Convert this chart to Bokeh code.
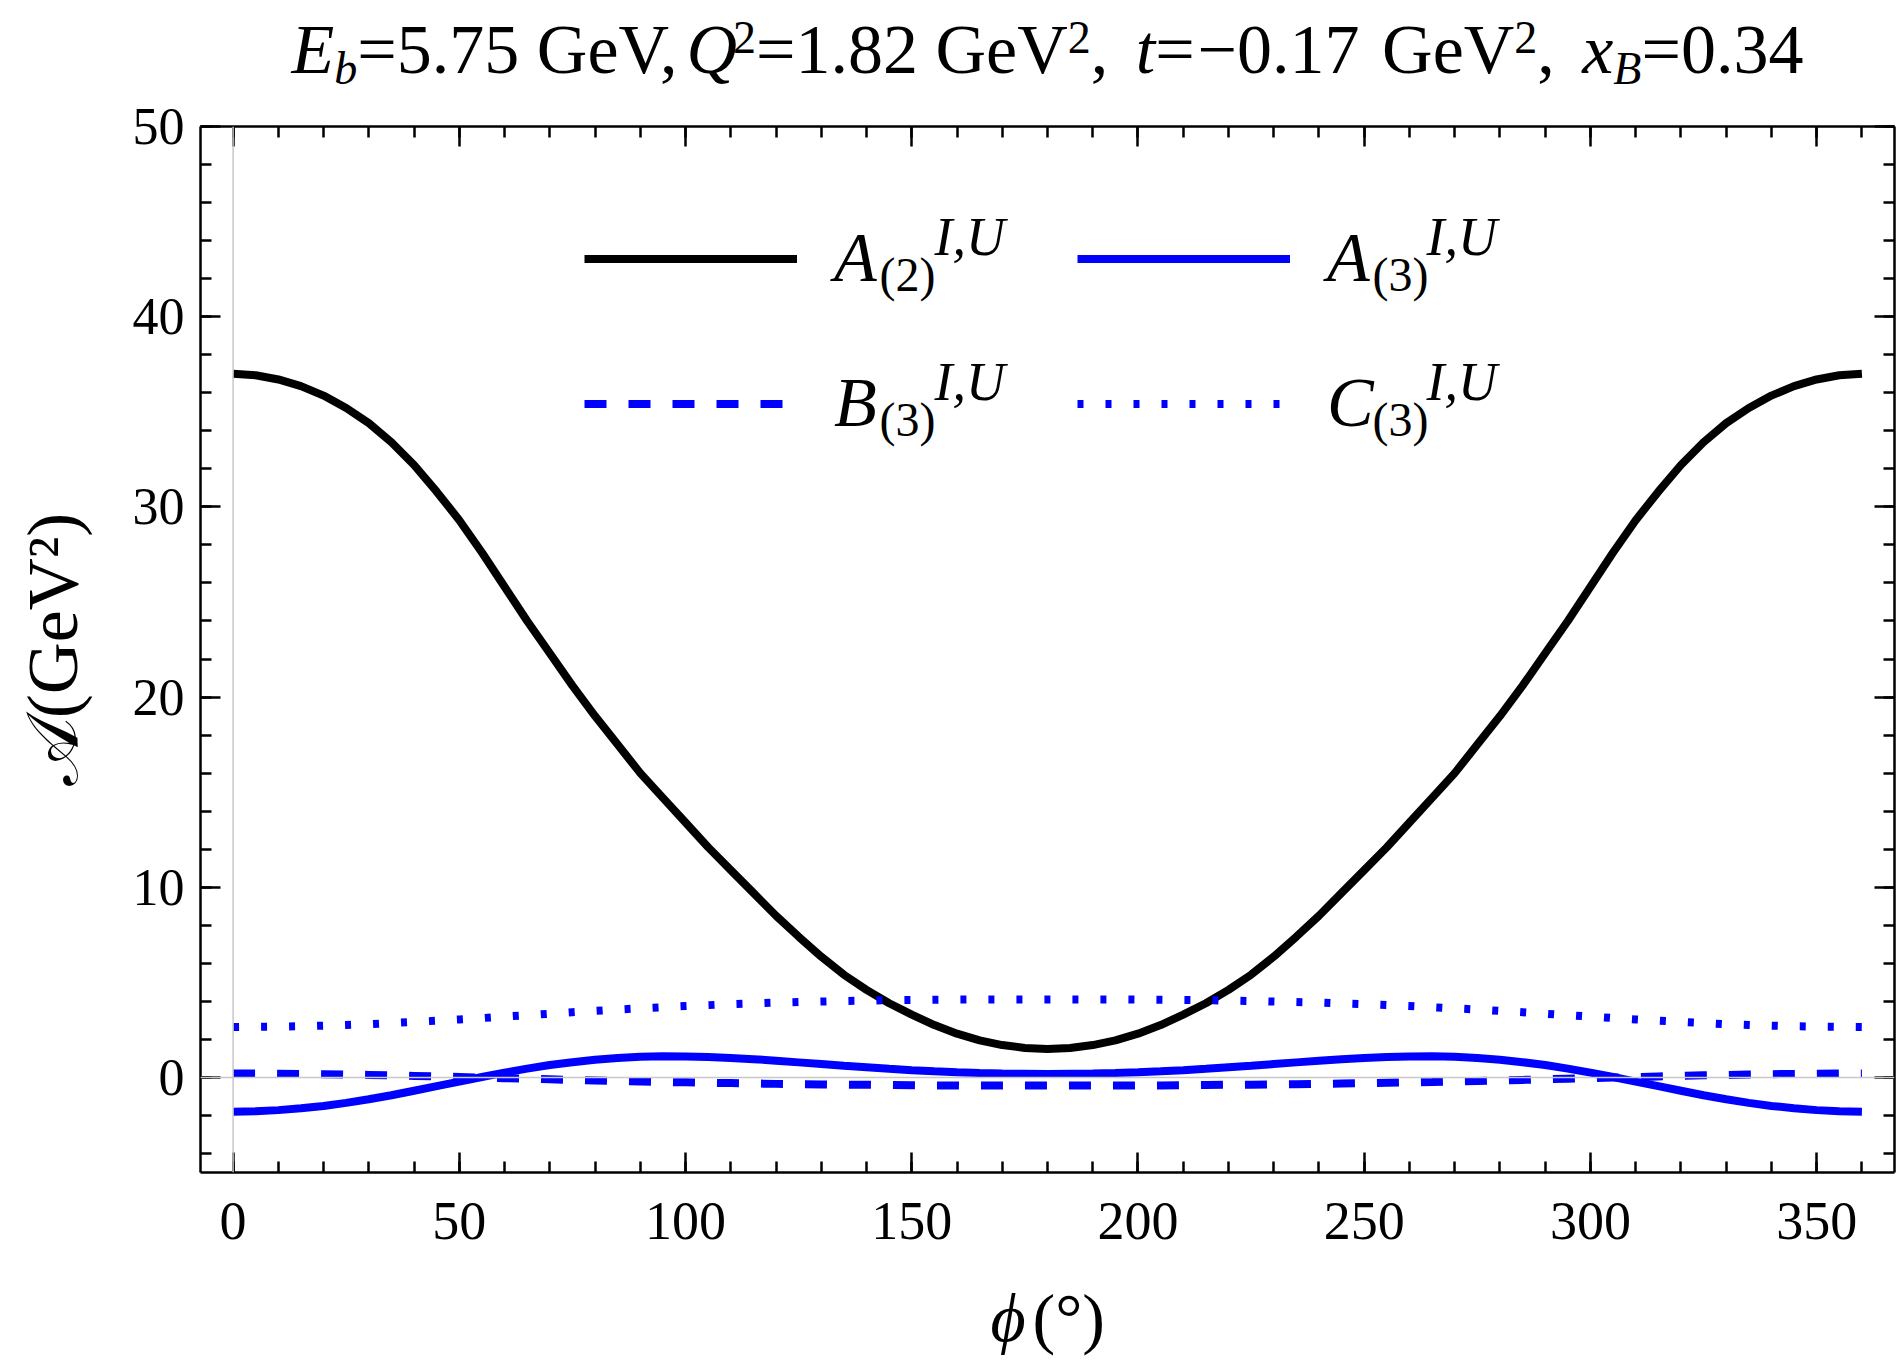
from bokeh.plotting import figure
from bokeh.layouts import column
from bokeh.models import (LinearAxis, Range1d, Span, Label, FixedTicker,
                          CustomJSTickFormatter, Legend, LegendItem)
from bokeh.embed import file_html
from bokeh.resources import INLINE

# ---------------- data ----------------
phi_deg = [0, 5, 10, 15, 20, 25, 30, 35, 40, 45, 50, 55, 60, 65, 70, 75, 80, 85, 90,
           95, 100, 105, 110, 115, 120, 125, 130, 135, 140, 145, 150, 155, 160, 165, 170, 175, 180,
           185, 190, 195, 200, 205, 210, 215, 220, 225, 230, 235, 240, 245, 250, 255, 260, 265, 270,
           275, 280, 285, 290, 295, 300, 305, 310, 315, 320, 325, 330, 335, 340, 345, 350, 355, 360]

A2_IU = [37.0, 36.92, 36.7, 36.35, 35.85, 35.2, 34.4, 33.4, 32.2, 30.8, 29.3, 27.6, 25.8, 24.0, 22.3, 20.6, 19.0, 17.5, 16.0,
         14.7, 13.4, 12.1, 10.9, 9.7, 8.5, 7.4, 6.35, 5.4, 4.6, 3.9, 3.3, 2.75, 2.3, 1.95, 1.7, 1.55, 1.5,
         1.55, 1.7, 1.95, 2.3, 2.75, 3.3, 3.9, 4.6, 5.4, 6.35, 7.4, 8.5, 9.7, 10.9, 12.1, 13.4, 14.7, 16.0,
         17.5, 19.0, 20.6, 22.3, 24.0, 25.8, 27.6, 29.3, 30.8, 32.2, 33.4, 34.4, 35.2, 35.85, 36.35, 36.7, 36.92, 37.0]

A3_IU = [-1.8, -1.78, -1.72, -1.62, -1.5, -1.34, -1.15, -0.94, -0.7, -0.46, -0.22, 0.02, 0.25, 0.46, 0.65, 0.8, 0.93, 1.02, 1.08,
         1.11, 1.1, 1.07, 1.02, 0.96, 0.88, 0.79, 0.7, 0.61, 0.53, 0.45, 0.38, 0.32, 0.27, 0.23, 0.2, 0.19, 0.18,
         0.19, 0.2, 0.23, 0.27, 0.32, 0.38, 0.45, 0.53, 0.61, 0.7, 0.79, 0.88, 0.96, 1.02, 1.07, 1.1, 1.11, 1.08,
         1.02, 0.93, 0.8, 0.65, 0.46, 0.25, 0.02, -0.22, -0.46, -0.7, -0.94, -1.15, -1.34, -1.5, -1.62, -1.72, -1.78, -1.8]

B3_IU = [0.2, 0.2, 0.19, 0.18, 0.17, 0.15, 0.13, 0.11, 0.08, 0.05, 0.02, -0.01, -0.04, -0.07, -0.1, -0.13, -0.16, -0.19, -0.21,
         -0.24, -0.26, -0.28, -0.3, -0.32, -0.34, -0.36, -0.37, -0.38, -0.39, -0.4, -0.41, -0.42, -0.42, -0.43, -0.43, -0.43, -0.43,
         -0.43, -0.43, -0.43, -0.42, -0.42, -0.41, -0.4, -0.39, -0.38, -0.37, -0.36, -0.34, -0.32, -0.3, -0.28, -0.26, -0.24, -0.21,
         -0.19, -0.16, -0.13, -0.1, -0.07, -0.04, -0.01, 0.02, 0.05, 0.08, 0.11, 0.13, 0.15, 0.17, 0.18, 0.19, 0.2, 0.2]

C3_IU = [2.65, 2.66, 2.67, 2.69, 2.72, 2.76, 2.8, 2.86, 2.92, 2.98, 3.05, 3.12, 3.2, 3.27, 3.35, 3.43, 3.5, 3.57, 3.63,
         3.69, 3.75, 3.8, 3.85, 3.89, 3.93, 3.96, 3.99, 4.02, 4.04, 4.06, 4.07, 4.08, 4.09, 4.1, 4.1, 4.1, 4.1,
         4.1, 4.1, 4.1, 4.09, 4.08, 4.07, 4.06, 4.04, 4.02, 3.99, 3.96, 3.93, 3.89, 3.85, 3.8, 3.75, 3.69, 3.63,
         3.57, 3.5, 3.43, 3.35, 3.27, 3.2, 3.12, 3.05, 2.98, 2.92, 2.86, 2.8, 2.76, 2.72, 2.69, 2.67, 2.66, 2.65]

x_major_ticks = [0, 50, 100, 150, 200, 250, 300, 350]
x_minor_ticks = list(range(-10, 371, 10))
y_major_ticks = [0, 10, 20, 30, 40, 50]
y_minor_ticks = list(range(-6, 51, 2))
x_limits = (-7.2, 367.2)
y_limits = (-5, 50)

y_axis_title = "\U0001D49C(GeV\u00b2)"

# ---------------- layout constants (page pixels) ----------------
SERIF = "Liberation Serif"
BLUE = "#0000ff"
TOTAL_W = 1896
TITLE_H = 95
MAIN_BOTTOM = 1262
TOTAL_H = 1360
FRAME_L, FRAME_R, FRAME_T, FRAME_B = 200, 1894, 126, 1172
MID = 0.34  # Label anchor sits this fraction of the font size above the baseline


def text_fig(w, h):
    f = figure(width=w, height=h, x_range=Range1d(0, 1), y_range=Range1d(0, 1),
               x_axis_type=None, y_axis_type=None, output_backend="svg",
               toolbar_location=None, min_border=0)
    f.outline_line_color = None
    f.background_fill_color = "white"
    f.border_fill_color = "white"
    f.grid.visible = False
    return f


title_fig = text_fig(TOTAL_W, TITLE_H)
xlab_fig = text_fig(TOTAL_W, TOTAL_H - MAIN_BOTTOM)

p = figure(width=TOTAL_W, height=MAIN_BOTTOM - TITLE_H,
           x_range=Range1d(*x_limits), y_range=Range1d(*y_limits),
           x_axis_type=None, y_axis_type=None, output_backend="svg", toolbar_location=None,
           min_border_left=FRAME_L, min_border_right=TOTAL_W - FRAME_R,
           min_border_top=FRAME_T - TITLE_H, min_border_bottom=MAIN_BOTTOM - FRAME_B)
p.outline_line_color = None
p.background_fill_color = "white"
p.border_fill_color = "white"


def make_axis(ticks, minor, loc, labels):
    ax = LinearAxis(ticker=FixedTicker(ticks=ticks, minor_ticks=minor))
    ax.axis_line_color = "black"
    ax.axis_line_width = 2.5
    ax.major_tick_line_color = "black"
    ax.major_tick_line_width = 2.5
    ax.minor_tick_line_color = "black"
    ax.minor_tick_line_width = 2.5
    ax.major_tick_in = 20
    ax.major_tick_out = 0
    ax.minor_tick_in = 11
    ax.minor_tick_out = 0
    if labels:
        ax.major_label_text_font = SERIF
        ax.major_label_text_font_size = "54px" if loc == "below" else "52px"
        ax.major_label_text_color = "black"
        ax.major_label_standoff = 30 if loc == "below" else 16
    else:
        ax.formatter = CustomJSTickFormatter(code="return ''")
        ax.major_label_standoff = 0
        ax.major_label_text_font_size = "0px"
    p.add_layout(ax, loc)
    return ax


make_axis(x_major_ticks, x_minor_ticks, "below", True)
make_axis(x_major_ticks, x_minor_ticks, "above", False)
yax = make_axis(y_major_ticks, y_minor_ticks, "left", True)
make_axis(y_major_ticks, y_minor_ticks, "right", False)
yax.axis_label = y_axis_title
yax.axis_label_text_font = SERIF
yax.axis_label_text_font_size = "72px"
yax.axis_label_text_font_style = "normal"
yax.axis_label_text_color = "black"
yax.axis_label_standoff = 37

# Mathematica-style axes through the origin
p.add_layout(Span(location=0, dimension="height", line_color="#c8c8c8", line_width=1.5))
p.add_layout(Span(location=0, dimension="width", line_color="#c8c8c8", line_width=1.5))

r_a2 = p.line(phi_deg, A2_IU, line_color="black", line_width=8)
r_a3 = p.line(phi_deg, A3_IU, line_color=BLUE, line_width=8)
r_b3 = p.line(phi_deg, B3_IU, line_color=BLUE, line_width=8, line_dash="22 22")
r_c3 = p.line(phi_deg, C3_IU, line_color=BLUE, line_width=8, line_dash="6 22")

# ---------------- legend ----------------
legend = Legend(items=[LegendItem(label="A", renderers=[r_a2]),
                       LegendItem(label="A", renderers=[r_a3]),
                       LegendItem(label="B", renderers=[r_b3]),
                       LegendItem(label="C", renderers=[r_c3])],
                orientation="horizontal", ncols=2,
                location=(584 - FRAME_L, FRAME_B - 475.5),
                glyph_width=213, glyph_height=145, label_standoff=37,
                label_width=243, label_height=145, spacing=0, padding=0, margin=0,
                border_line_color=None, background_fill_alpha=0,
                label_text_font=SERIF, label_text_font_size="70px",
                label_text_font_style="italic", label_text_color="black")
p.add_layout(legend, "center")


def put(fig, ox, oy, text, px, baseline, size, italic=False):
    anchor_y = baseline - MID * size
    fig.add_layout(Label(x=px - ox, y=oy - anchor_y, x_units="screen", y_units="screen",
                         text=text, text_font=SERIF, text_font_size=f"{size}px",
                         text_font_style="italic" if italic else "normal",
                         text_color="black", text_align="left", text_baseline="alphabetic"))


# legend sub/superscripts
legend_scripts = [("(2)", 879, 290, "I,U", 934, 255),
                  ("(3)", 1372, 290, "I,U", 1426, 255),
                  ("(3)", 879, 435, "I,U", 934, 400),
                  ("(3)", 1372, 435, "I,U", 1426, 400)]
for sub, sx, sy, sup, ux, uy in legend_scripts:
    put(p, FRAME_L, FRAME_B, sub, sx, sy, 48)
    put(p, FRAME_L, FRAME_B, sup, ux, uy, 54, italic=True)

# ---------------- title (flowed with Times metrics) ----------------
ROMAN_W = {"=": 0.564, ".": 0.25, " ": 0.25, "G": 0.722, "e": 0.444, "V": 0.722,
           ",": 0.25, "\u2212": 0.564}
ITALIC_W = {"E": 0.611, "b": 0.5, "Q": 0.722, "t": 0.278, "x": 0.444, "B": 0.611}
MAIN_SIZE, SCRIPT_SIZE = 70, 46
BASE, SUB_BASE, SUP_BASE = 73, 84, 53
# (text, italic, kind, extra gap after)
title_segments = [("E", True, "m", 0), ("b", True, "sub", 0), ("=5.75", False, "m", 0), (" ", False, "sp", 0),
                  ("GeV,", False, "m", 0), ("Q", True, "m", -4), ("2", False, "sup", 0), ("=1.82", False, "m", 0),
                  (" ", False, "sp", 0), ("GeV", False, "m", 0), ("2", False, "sup", 0), (",", False, "m", 0),
                  (" ", False, "sp", 10), ("t", True, "m", 0), ("=", False, "m", 3), ("\u22120.17", False, "m", 0),
                  (" ", False, "sp", 5), ("GeV", False, "m", 0), ("2", False, "sup", 0), (",", False, "m", 0),
                  (" ", False, "sp", 10), ("x", True, "m", 0), ("B", True, "sub", 0), ("=0.34", False, "m", 0)]


def seg_width(text, italic, kind, extra):
    size = SCRIPT_SIZE if kind in ("sub", "sup") else MAIN_SIZE
    table = ITALIC_W if italic else ROMAN_W
    return sum(table.get(c, 0.5) for c in text) * size + extra


total = sum(seg_width(*s) for s in title_segments)
cx = (FRAME_L + FRAME_R) / 2 - total / 2
for text, italic, kind, extra in title_segments:
    w = seg_width(text, italic, kind, extra)
    if kind != "sp":
        size = SCRIPT_SIZE if kind in ("sub", "sup") else MAIN_SIZE
        base = {"m": BASE, "sub": SUB_BASE, "sup": SUP_BASE}[kind]
        put(title_fig, FRAME_L, TITLE_H, text, cx, base, size, italic=italic)
    cx += w

# ---------------- x axis label ----------------
put(xlab_fig, FRAME_L, TOTAL_H, "\u03d5", 990, 1341, 68, italic=True)
put(xlab_fig, FRAME_L, TOTAL_H, "(\u00b0)", 1032, 1341, 68)

layout = column(title_fig, p, xlab_fig)
open("out.html", "w").write(file_html(layout, INLINE))
